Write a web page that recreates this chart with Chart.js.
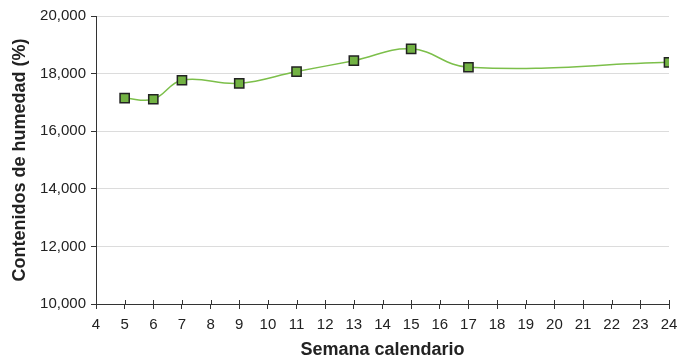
<!DOCTYPE html>
<html>
<head>
<meta charset="utf-8">
<script src="https://cdn.jsdelivr.net/npm/chart.js@4"></script>
<style>
  html, body { margin: 0; padding: 0; background: #fff; }
  #wrap { width: 679px; height: 361px; position: relative; }
</style>
</head>
<body>
<div id="wrap"><canvas id="c" width="679" height="361"></canvas></div>
<script>
// Semana calendario (x) and contenido de humedad (y)
const semanas = [5, 6, 7, 9, 11, 13, 15, 17, 24];
const humedad = [17150, 17110, 17770, 17660, 18070, 18450, 18860, 18220, 18390];
const yTicks = [10000, 12000, 14000, 16000, 18000, 20000];

const axisColor = '#333333';
const fontFamily = '"Liberation Sans", Arial, sans-serif';

// x-axis tick marks cross the axis line: draw the inner half above the axis
const crossTicks = {
  id: 'crossTicks',
  afterDatasetsDraw(chart) {
    const xs = chart.scales.x;
    const ctx = chart.ctx;
    ctx.save();
    ctx.strokeStyle = axisColor;
    ctx.lineWidth = 1;
    ctx.beginPath();
    xs.ticks.forEach(t => {
      const px = Math.round(xs.getPixelForValue(t.value)) + 0.5;
      ctx.moveTo(px, xs.top);
      ctx.lineTo(px, xs.top - 4);
    });
    ctx.stroke();
    ctx.restore();
  }
};

new Chart(document.getElementById('c'), {
  type: 'line',
  data: {
    datasets: [{
      data: semanas.map((s, i) => ({ x: s, y: humedad[i] })),
      borderColor: '#7cbf4a',
      borderWidth: 1.5,
      tension: 0.4,
      pointStyle: 'rect',
      pointRadius: 6.5,
      pointBackgroundColor: '#72b243',
      pointBorderColor: '#222222',
      pointBorderWidth: 1.5,
      fill: false
    }]
  },
  plugins: [crossTicks],
  options: {
    responsive: false,
    animation: false,
    layout: { padding: { top: 16, right: 0, left: 0, bottom: 0 } },
    plugins: { legend: { display: false }, tooltip: { enabled: false } },
    scales: {
      x: {
        type: 'linear',
        min: 4, max: 24,
        afterFit: s => { s.height = 57; s.paddingRight = 10; s.paddingLeft = 0; },
        border: { color: axisColor, width: 1 },
        grid: { drawOnChartArea: false, tickLength: 5, tickColor: axisColor },
        ticks: {
          stepSize: 1, autoSkip: false, maxRotation: 0, padding: 7,
          color: '#222', font: { family: fontFamily, size: 15 }
        },
        title: {
          display: true, text: 'Semana calendario', color: '#222',
          font: { family: fontFamily, size: 18, weight: 'bold' }, padding: { top: 0, bottom: 0 }
        }
      },
      y: {
        min: 10000, max: 20000,
        afterFit: s => { s.width = 96; },
        afterBuildTicks: s => { s.ticks = yTicks.map(v => ({ value: v })); },
        border: { color: axisColor, width: 1 },
        grid: { color: '#dcdcdc', lineWidth: 1, tickLength: 5, tickColor: axisColor },
        ticks: {
          padding: 5, color: '#222', font: { family: fontFamily, size: 15 },
          callback: v => v.toLocaleString('en-US')
        },
        title: {
          display: true, text: 'Contenidos de humedad (%)', color: '#222',
          font: { family: fontFamily, size: 18, weight: 'bold' }, padding: { top: 9, bottom: 0 }
        }
      }
    }
  }
});
</script>
</body>
</html>
